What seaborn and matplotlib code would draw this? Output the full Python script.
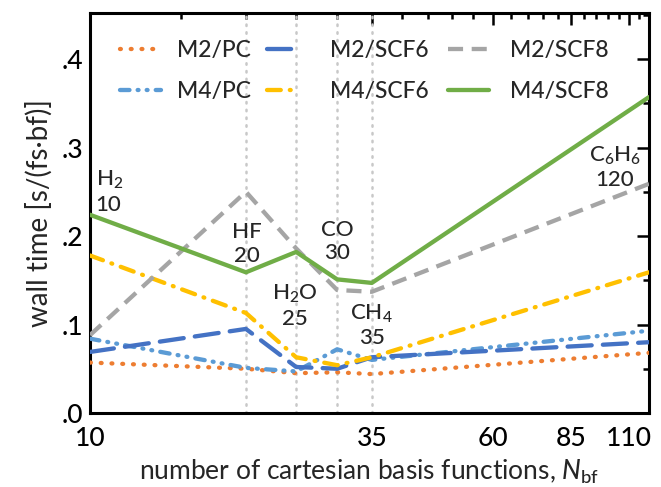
import matplotlib
matplotlib.use("Agg")
import matplotlib.pyplot as plt
import seaborn as sns
import numpy as np
import pandas as pd
from matplotlib.ticker import FixedLocator, NullFormatter, FuncFormatter, MultipleLocator

sns.set_style("white")
plt.rcParams['font.family'] = ['Lato', 'DejaVu Sans']
plt.rcParams['font.weight'] = 'medium'
plt.rcParams['mathtext.fontset'] = 'custom'
plt.rcParams['mathtext.rm'] = 'Lato:medium'
plt.rcParams['mathtext.it'] = 'Lato:italic:medium'

# data
nbf = [10, 20, 25, 30, 35, 120]
m2_pc = [0.057, 0.050, 0.045, 0.046, 0.044, 0.068]
m4_pc = [0.084, 0.051, 0.047, 0.072, 0.060, 0.093]
m2_scf6 = [0.069, 0.095, 0.052, 0.050, 0.063, 0.080]
m4_scf6 = [0.178, 0.113, 0.063, 0.054, 0.063, 0.159]
m2_scf8 = [0.088, 0.250, 0.186, 0.139, 0.137, 0.259]
m4_scf8 = [0.224, 0.159, 0.182, 0.151, 0.147, 0.357]
series_names = ["M2/PC", "M4/PC", "M2/SCF6", "M4/SCF6", "M2/SCF8", "M4/SCF8"]
molecules = ["H$_2$", "HF", "H$_2$O", "CO", "CH$_4$", "C$_6$H$_6$"]
major_ticks = [10, 35, 60, 85, 110]
ytick_vals = [0.0, 0.1, 0.2, 0.3, 0.4]

series = [m2_pc, m4_pc, m2_scf6, m4_scf6, m2_scf8, m4_scf8]
colors = ["#ED7D31", "#5B9BD5", "#4472C4", "#FFC000", "#A5A5A5", "#70AD47"]
styles = [(0, (0.2, 2.3)), (0, (2.2, 1.9, 0.2, 1.9, 0.2, 1.9)), (0, (5.6, 2.6)),
          (0, (3.2, 2.1, 0.2, 2.1)), (0, (3.5, 2.0)), "-"]
caps = ["round", "round", "round", "round", "butt", "butt"]

W, H = 661, 487
fig = plt.figure(figsize=(W / 100, H / 100), dpi=100)
ax = fig.add_axes([90 / W, 1 - 413 / H, 559 / W, 400 / H])

for x in [20, 25, 30, 35]:
    ax.axvline(x, color="#C8C8C8", linestyle=(0, (0.6, 2.5)), linewidth=1.8,
               dash_capstyle="round", zorder=1)

for name, vals, c, ls, cap in zip(series_names, series, colors, styles, caps):
    df = pd.DataFrame({"x": nbf, "y": vals})
    sns.lineplot(data=df, x="x", y="y", ax=ax, color=c, linestyle=ls,
                 linewidth=3.1, label=name, dash_capstyle=cap, zorder=3)

ax.set_xscale("log")
ax.set_xlim(10, 120)
ax.set_ylim(0, 0.452)
ax.xaxis.set_major_locator(FixedLocator(major_ticks))
ax.xaxis.set_minor_locator(FixedLocator(list(range(15, 121, 5))))
ax.xaxis.set_major_formatter(FuncFormatter(lambda v, p: f"{v:g}"))
ax.xaxis.set_minor_formatter(NullFormatter())
ax.yaxis.set_major_locator(FixedLocator(ytick_vals))
ax.yaxis.set_minor_locator(MultipleLocator(0.05))
ax.yaxis.set_major_formatter(FuncFormatter(lambda v, p: ("%.1f" % v)[1:]))

for s in ax.spines.values():
    s.set_linewidth(2.2)
    s.set_color("black")
ax.tick_params(which="both", direction="in", top=True, right=True, width=1.8, colors="black")
ax.tick_params(which="major", length=8.5, labelsize=19)
ax.tick_params(axis="x", which="major", pad=9)
ax.tick_params(axis="y", which="major", pad=5)
ax.tick_params(which="minor", length=4.5)

ax.set_xlabel("number of cartesian basis functions, $\\mathit{N}_\\mathrm{bf}$", fontsize=19, labelpad=5)
ax.set_ylabel("wall time [s/(fs·bf)]", fontsize=20, labelpad=6)

ann_pos = [(10.25, 0.250, "left"), (20.1, 0.191, "center"), (24.9, 0.121, "center"),
           (30, 0.194, "center"), (35, 0.099, "center"), (103, 0.278, "center")]
for mol, n, (xp, yp, ha) in zip(molecules, nbf, ann_pos):
    ax.text(xp, yp, f"{mol}\n{n}", fontsize=16, ha=ha, va="center",
            linespacing=1.2, zorder=4)

# three legend columns, placed like the reference
handles, labels = ax.get_legend_handles_labels()
if ax.get_legend():
    ax.get_legend().remove()
hmap = dict(zip(labels, handles))
cols = [(["M2/PC", "M4/PC"], 120, 1.8, 0.7),
        (["M2/SCF6", "M4/SCF6"], 267, 1.4, 1.35),
        (["M2/SCF8", "M4/SCF8"], 448, 1.8, 0.9)]
for names, xpix, hl, tp in cols:
    fig.legend([hmap[n] for n in names], names, loc="center left",
               bbox_to_anchor=(xpix / W, 1 - 71 / H), bbox_transform=fig.transFigure,
               frameon=False, fontsize=16.5, handlelength=hl, handletextpad=tp,
               labelspacing=0.85, borderpad=0, borderaxespad=0)

fig.savefig("out.png", dpi=100)
